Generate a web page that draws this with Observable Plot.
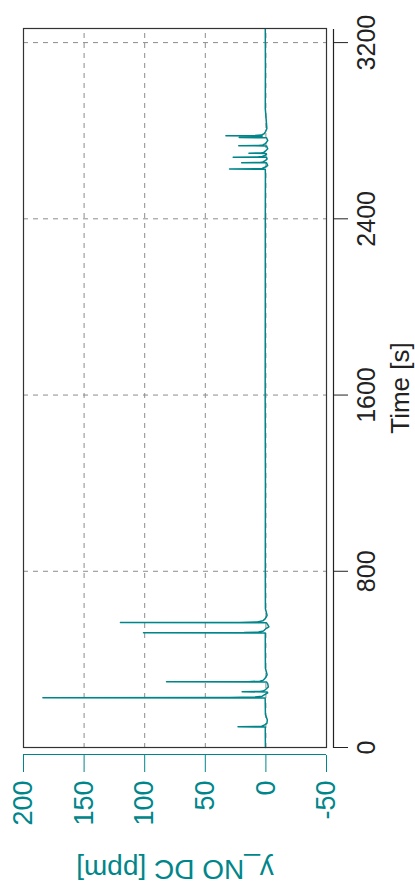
<!DOCTYPE html>
<html>
<head>
<meta charset="utf-8">
<script src="https://cdn.jsdelivr.net/npm/d3@7"></script>
<script src="https://cdn.jsdelivr.net/npm/@observablehq/plot@0.6"></script>
<style>
  html, body { margin: 0; padding: 0; background: #fff; overflow: hidden; }
  #wrap {
    position: absolute; left: 0; top: 0;
    width: 888px; height: 415px;
    transform-origin: 0 0;
    transform: translate(0px, 888px) rotate(-90deg);
  }
</style>
</head>
<body>
<div id="wrap"></div>
<script>
const timeTicks = [0, 800, 1600, 2400, 3200];
const valueTicks = [-50, 0, 50, 100, 150, 200];
const gridValues = [0, 50, 100, 150];
const timeDomain = [0, 3264];
const valueDomain = [-50, 200];
const xLabel = "Time [s]";
const yLabel = "y_NO DC [ppm]";

const timeS = [
  0, 60, 93, 94, 95, 97, 101, 110, 125, 150,
  225, 226, 227, 229, 233, 240, 248,
  252, 253, 254, 256, 262, 275, 290,
  297, 298, 299, 301, 306, 315, 330, 360,
  450,
  520, 521, 522, 524, 529, 538, 548, 558,
  566, 567, 568, 570, 575, 585, 600, 630,
  800, 1200, 1600, 2000, 2400, 2600,
  2625, 2626, 2627, 2629, 2634, 2642,
  2654, 2655, 2656, 2658, 2664, 2672,
  2679, 2680, 2681, 2683, 2688, 2693,
  2697, 2698, 2699, 2701, 2707, 2718,
  2731, 2732, 2733, 2735, 2741, 2755,
  2768, 2769, 2770, 2771,
  2776, 2777, 2778, 2780, 2786, 2796, 2810,
  2900, 3100, 3263
];
const noDC = [
  0.4, 0.5, 0.5, 23, 7, 3.5, 1.5, -0.8, -1.2, 0.4,
  0.6, 184, 30, 9, 3, 1, -1.5,
  -1, 19.6, 5, 2.5, 0.5, -2, -1.5,
  -0.5, 82, 15, 5, 2, 0.5, -1, 0.4,
  0.5,
  0.5, 101, 18, 6, 2, 0.3, -2.5, -1.5,
  -0.5, 120, 22, 7, 2.5, 0.5, -1, 0.4,
  0.5, 0.4, 0.6, 0.5, 0.5, 0.4,
  0.5, 30, 8, 3, 1, -1.5,
  -0.5, 20, 5, 2.5, 0.5, -1,
  -0.5, 27, 7, 3, 0.8, -0.5,
  0, 14, 4, 2, 0.5, -1.5,
  -0.5, 22.4, 6, 2.5, 0.5, -1.5,
  -0.5, 22, 6, 4,
  3, 33, 9, 4, 1.5, 0.3, -0.8,
  0.5, 0.4, 0.5
];

const teal = "#00868a";
const data = timeS.map((t, i) => ({t, v: noDC[i]}));
const fmt = d => String(d);

const chart = Plot.plot({
  width: 888,
  height: 415,
  marginLeft: 140,
  marginRight: 29,
  marginTop: 23,
  marginBottom: 89,
  x: {domain: timeDomain},
  y: {domain: valueDomain},
  style: {fontFamily: "'Liberation Sans', Arial, Helvetica, sans-serif", background: "#fff"},
  marks: [
    Plot.gridX(timeTicks, {stroke: "#8c8c8c", strokeOpacity: 1, strokeDasharray: "5,5"}),
    Plot.gridY(gridValues, {stroke: "#8c8c8c", strokeOpacity: 1, strokeDasharray: "5,5"}),
    Plot.line(data, {x: "t", y: "v", stroke: teal, strokeWidth: 1.5}),
    Plot.frame({stroke: "#333", strokeWidth: 1.2}),
    Plot.ruleY([valueDomain[0]], {x1: timeDomain[0], x2: timeDomain[1], dy: 7, stroke: "#222", strokeWidth: 1.2}),
    Plot.axisX(timeTicks, {tickSize: 15, tickPadding: 9, dy: 7, fontSize: 25, color: "#222", label: null, tickFormat: fmt}),
    Plot.ruleX([timeDomain[0]], {y1: valueDomain[0], y2: valueDomain[1], dx: -7, stroke: teal, strokeWidth: 1.2}),
    Plot.axisY(valueTicks, {tickSize: 17, tickPadding: 9, dx: -7, fontSize: 27, color: teal, label: null, tickFormat: fmt}),
    Plot.text([xLabel], {frameAnchor: "bottom", dy: 82, lineAnchor: "bottom", textAnchor: "middle", fontSize: 26, fill: "#222"}),
    Plot.text([yLabel], {frameAnchor: "left", dx: -112, rotate: -90, lineAnchor: "bottom", textAnchor: "middle", fontSize: 28, fill: teal})
  ]
});
document.getElementById("wrap").appendChild(chart);
</script>
</body>
</html>
